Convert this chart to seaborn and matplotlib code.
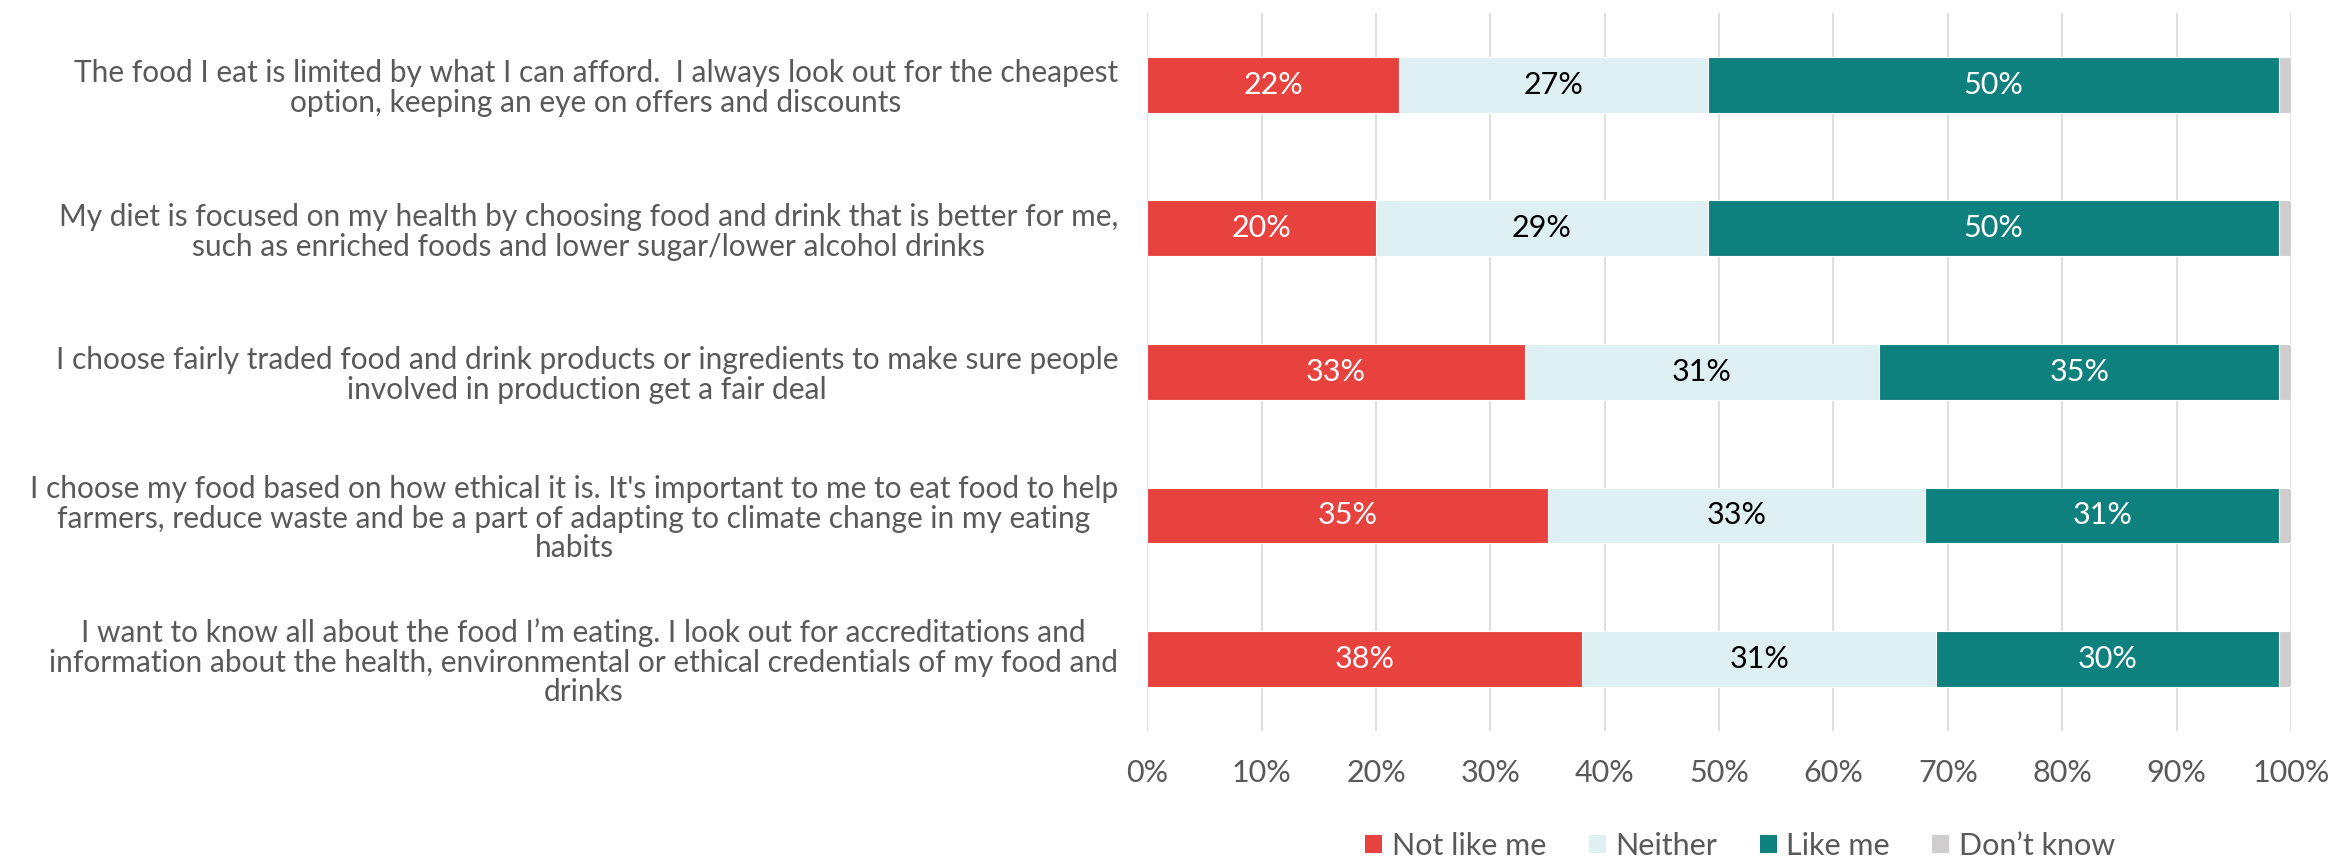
import matplotlib
matplotlib.use("Agg")
import matplotlib.pyplot as plt
from matplotlib.patches import Patch
import numpy as np
import pandas as pd
import seaborn as sns

# Survey statements (top to bottom) and share of each response, in %
statements = [
    "The food I eat is limited by what I can afford.  I always look out for the cheapest\n"
    "option, keeping an eye on offers and discounts",
    "My diet is focused on my health by choosing food and drink that is better for me,\n"
    "such as enriched foods and lower sugar/lower alcohol drinks",
    "I choose fairly traded food and drink products or ingredients to make sure people\n"
    "involved in production get a fair deal",
    "I choose my food based on how ethical it is. It's important to me to eat food to help\n"
    "farmers, reduce waste and be a part of adapting to climate change in my eating\n"
    "habits",
    "I want to know all about the food I\u2019m eating. I look out for accreditations and\n"
    "information about the health, environmental or ethical credentials of my food and\n"
    "drinks",
]
not_like_me = [22, 20, 33, 35, 38]
neither = [27, 29, 31, 33, 31]
like_me = [50, 50, 35, 31, 30]
dont_know = [1, 1, 1, 1, 1]

responses = ["Not like me", "Neither", "Like me", "Don\u2019t know"]
colors = ["#E8423F", "#DFF0F3", "#0E807E", "#CFCDCE"]
value_colors = ["white", "black", "white", None]
x_ticks = [0, 10, 20, 30, 40, 50, 60, 70, 80, 90, 100]

TEXT_GREY = "#595959"

sns.set_theme(style="white")
plt.rcParams["font.family"] = ["Lato", "DejaVu Sans"]

values = np.array([not_like_me, neither, like_me, dont_know], dtype=float)
cumulative = np.cumsum(values, axis=0)

df = pd.DataFrame({"statement": statements})
for i, r in enumerate(responses):
    df[r] = values[i]
    df[f"cum_{i}"] = cumulative[i]

fig = plt.figure(figsize=(23.31, 8.58), dpi=100)
ax = fig.add_axes([0.4922, 0.1483, 0.4906, 0.8363])

# Stacked bars: draw running totals from the longest to the shortest
for i in reversed(range(len(responses))):
    sns.barplot(
        data=df, x=f"cum_{i}", y="statement", order=statements, orient="h",
        color=colors[i], saturation=1, width=0.39, errorbar=None,
        edgecolor="white", linewidth=0.8, ax=ax,
    )

# Percentage labels centred in each segment
for i in range(3):
    for j in range(len(statements)):
        v = values[i][j]
        centre = cumulative[i][j] - v / 2
        ax.text(centre, j, f"{v:.0f}%", ha="center", va="center",
                color=value_colors[i], fontsize=22)

ax.set_xlim(0, 100)
ax.set_ylim(len(statements) - 0.5, -0.5)
ax.set_xticks(x_ticks)
ax.set_xticklabels([f"{t}%" for t in x_ticks])
ax.set_xlabel("")
ax.set_ylabel("")
ax.xaxis.grid(True, color="#D9D9D9", linewidth=1.2)
ax.yaxis.grid(False)
ax.set_axisbelow(True)
for s in ax.spines.values():
    s.set_visible(False)

ax.tick_params(axis="x", length=0, pad=20, labelsize=22, labelcolor=TEXT_GREY)
ax.tick_params(axis="y", length=0, pad=21, labelsize=21.5, labelcolor=TEXT_GREY)
for lbl in ax.get_yticklabels():
    lbl.set_multialignment("center")
    lbl.set_linespacing(1.07)

handles = [Patch(facecolor=c, edgecolor="none", label=r) for c, r in zip(colors, responses)]
fig.legend(
    handles=handles, loc="center", bbox_to_anchor=(0.7465, 0.014), ncol=4,
    frameon=False, fontsize=22, handlelength=0.56, handleheight=0.56,
    handletextpad=0.3, columnspacing=1.4, labelcolor=TEXT_GREY,
)

fig.savefig("out.png", dpi=100)
